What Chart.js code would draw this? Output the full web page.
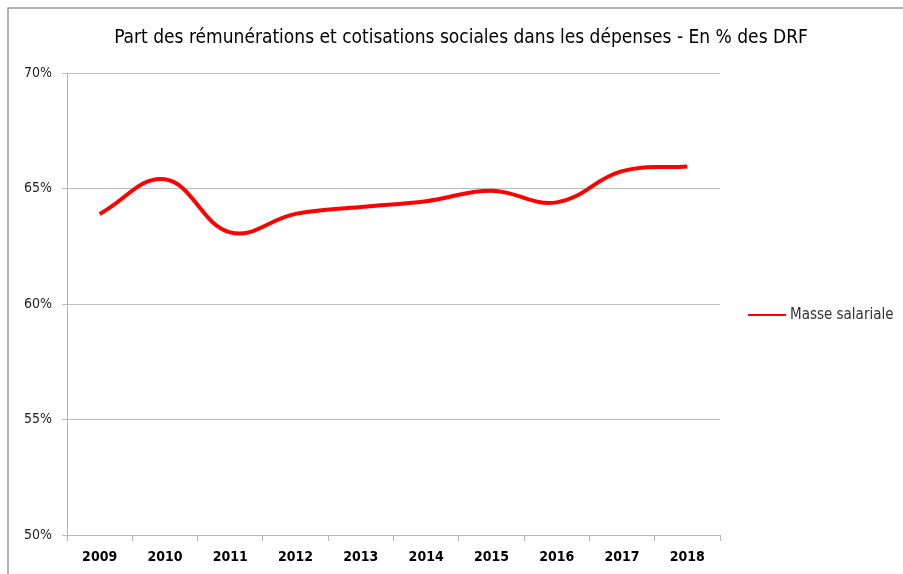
<!DOCTYPE html>
<html lang="fr">
<head>
  <meta charset="UTF-8" />
  <title>Part des rémunérations et cotisations sociales</title>
  <script src="https://cdn.jsdelivr.net/npm/chart.js"></script>
  <style>
    html, body { margin: 0; padding: 0; background: #fff; }
    #wrap { width: 903px; height: 574px; position: relative; }
  </style>
</head>
<body>
<div id="wrap"><canvas id="chart"></canvas></div>
<script>
const years = ['2009', '2010', '2011', '2012', '2013', '2014', '2015', '2016', '2017', '2018'];
const masseSalariale = [63.9, 65.4, 63.1, 63.9, 64.2, 64.45, 64.9, 64.4, 65.75, 65.95];
const yTicks = [50, 55, 60, 65, 70];

const titleText = 'Part des rémunérations et cotisations sociales dans les dépenses - En % des DRF';
const legendText = 'Masse salariale';
const narrow = "'Liberation Sans Narrow', 'DejaVu Sans Condensed', sans-serif";

// frame, title and legend drawn by hand so the plot area lands where it should
const decor = {
  id: 'decor',
  beforeDraw(chart) {
    const ctx = chart.ctx;
    ctx.save();
    ctx.strokeStyle = '#9a9a9a';
    ctx.lineWidth = 1.5;
    ctx.beginPath();
    ctx.moveTo(8, 574);
    ctx.lineTo(8, 8);
    ctx.lineTo(903, 8);
    ctx.stroke();
    ctx.restore();
  },
  afterDraw(chart) {
    const ctx = chart.ctx;
    ctx.save();
    ctx.fillStyle = '#000';
    ctx.font = "19px " + narrow;
    ctx.textAlign = 'center';
    ctx.textBaseline = 'middle';
    ctx.fillText(titleText, 461, 38);

    ctx.strokeStyle = '#ff0000';
    ctx.lineWidth = 2;
    ctx.beginPath();
    ctx.moveTo(748, 315);
    ctx.lineTo(786, 315);
    ctx.stroke();
    ctx.fillStyle = '#333';
    ctx.font = "15px " + narrow;
    ctx.textAlign = 'left';
    ctx.fillText(legendText, 790, 315);
    ctx.restore();
  }
};

new Chart(document.getElementById('chart'), {
  type: 'line',
  data: {
    labels: years,
    datasets: [{
      label: legendText,
      data: masseSalariale,
      borderColor: '#ff0000',
      borderWidth: 4,
      tension: 0.4,
      pointRadius: 0,
      fill: false
    }]
  },
  options: {
    responsive: true,
    maintainAspectRatio: false,
    animation: false,
    layout: { padding: { left: 10, top: 73, right: 183, bottom: 0 } },
    plugins: {
      legend: { display: false },
      title: { display: false },
      tooltip: { enabled: false }
    },
    scales: {
      x: {
        offset: true,
        grid: { offset: true, drawOnChartArea: false, color: '#b4b4b4', tickLength: 6 },
        border: { color: '#b4b4b4' },
        ticks: { color: '#000', font: { family: narrow, size: 14, weight: 'bold' }, padding: 8 },
        afterFit: s => { s.height = 39; }
      },
      y: {
        min: 50,
        max: 70,
        afterBuildTicks: s => { s.ticks = yTicks.map(v => ({ value: v })); },
        grid: { color: '#bdbdbd', tickLength: 5 },
        border: { color: '#b4b4b4' },
        ticks: {
          color: '#222',
          font: { family: narrow, size: 14 },
          padding: 10,
          callback: v => v + '%'
        },
        afterFit: s => { s.width = 57; }
      }
    }
  },
  plugins: [decor]
});
</script>
</body>
</html>
